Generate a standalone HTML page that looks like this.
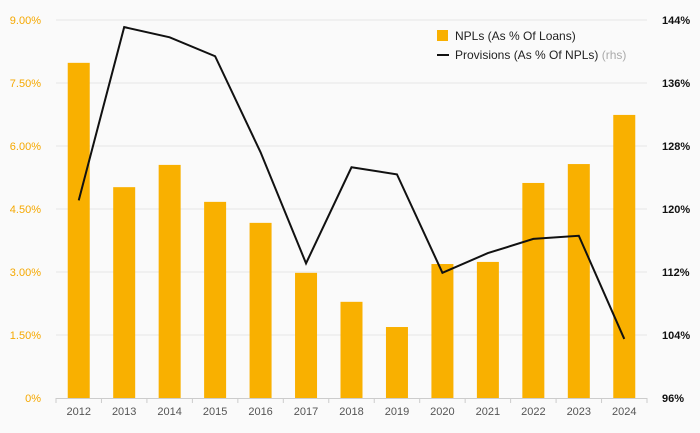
<!DOCTYPE html>
<html><head><meta charset="utf-8"><style>
body{margin:0;background:#fafafa;font-family:"Liberation Sans",sans-serif}
svg{display:block}
</style></head><body>
<svg id="chart" width="700" height="433"></svg>
<script>
const years=["2012","2013","2014","2015","2016","2017","2018","2019","2020","2021","2022","2023","2024"];
const npl=[7.98,5.02,5.55,4.67,4.17,2.98,2.29,1.69,3.19,3.24,5.12,5.57,6.74];
const prov=[121.1,143.1,141.8,139.4,127.2,113.1,125.3,124.4,111.9,114.4,116.2,116.6,103.5];
const leftTicks=[0,1.5,3,4.5,6,7.5,9];
const leftLabels=["0%","1.50%","3.00%","4.50%","6.00%","7.50%","9.00%"];
const rightTicks=[96,104,112,120,128,136,144];
const rightLabels=["96%","104%","112%","120%","128%","136%","144%"];
const NS="http://www.w3.org/2000/svg",svg=document.getElementById('chart');
const X0=56,X1=647,Y0=398,Y1=20,step=(X1-X0)/years.length;
const yL=v=>Y0-(v/9)*(Y0-Y1);
const yR=v=>Y0-((v-96)/48)*(Y0-Y1);
const xC=i=>X0+step*(i+0.5);
function mk(t,a,txt){const e=document.createElementNS(NS,t);for(const k in a)e.setAttribute(k,a[k]);if(txt!=null)e.textContent=txt;svg.appendChild(e);return e;}
leftTicks.forEach((v,i)=>{
 if(i>0){const g=mk('line',{x1:X0,x2:X1,y1:yL(v),y2:yL(v),stroke:'#e6e6e6','stroke-width':1});
 
 }
 const t=mk('text',{x:41,y:yL(v)+4,'text-anchor':'end','font-size':11,fill:'#f5a800'},leftLabels[i]);
 
 
});
rightTicks.forEach((v,i)=>{
 const t=mk('text',{x:662,y:yR(v)+4,'font-size':11,'font-weight':'bold',fill:'#111'},rightLabels[i]);
 
 
});
npl.forEach((v,i)=>{
 const b=mk('rect',{x:xC(i)-11,y:yL(v),width:22,height:Y0-yL(v),fill:'#f9b000'});
 
 
 const t=mk('text',{x:xC(i),y:415,'text-anchor':'middle','font-size':11,fill:'#555'},years[i]);
 
 
});
const ax=mk('line',{x1:X0,x2:X1,y1:Y0+0.5,y2:Y0+0.5,stroke:'#ccc'});


for(let i=0;i<=years.length;i++){const tk=mk('line',{x1:X0+step*i,x2:X0+step*i,y1:Y0,y2:Y0+5,stroke:'#ccc'});
 
 }
const ln=mk('polyline',{points:prov.map((v,i)=>xC(i)+','+yR(v)).join(' '),fill:'none',stroke:'#111','stroke-width':2});


const l1=mk('rect',{x:437,y:30,width:11,height:11,fill:'#f9b000'});


const l1t=mk('text',{x:455,y:40,'font-size':12,fill:'#222'},'NPLs (As % Of Loans)');


const l2=mk('line',{x1:437,x2:449,y1:55,y2:55,stroke:'#111','stroke-width':2});


const l2t=mk('text',{x:455,y:59,'font-size':12,fill:'#222'},'Provisions (As % Of NPLs) ');


const ts=document.createElementNS(NS,'tspan');ts.setAttribute('fill','#aaa');ts.textContent='(rhs)';l2t.appendChild(ts);
</script>
</body></html>
